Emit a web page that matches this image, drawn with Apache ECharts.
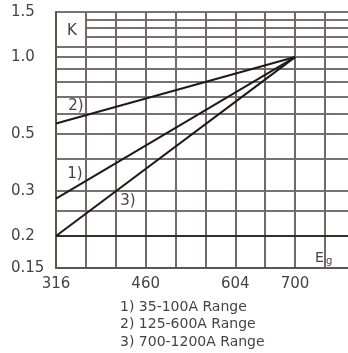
<!DOCTYPE html>
<html><head><meta charset="utf-8">
<script src="https://cdn.jsdelivr.net/npm/echarts@6/dist/echarts.min.js"></script>
<style>html,body{margin:0;padding:0;background:#fff}#c{width:348px;height:353px}</style>
</head><body><div id="c"></div>
<script>
// Data
const egValues = [316, 700];
const kRange1 = [0.28, 1.0];   // 1) 35-100A
const kRange2 = [0.55, 1.0];   // 2) 125-600A
const kRange3 = [0.20, 1.0];   // 3) 700-1200A
const xGridValues = [316, 364, 412, 460, 508, 556, 604, 652, 700, 748];
const xLabelValues = [316, 460, 604, 700];
const yGridValues = [1.5, 1.4, 1.3, 1.2, 1.1, 1.0, 0.9, 0.8, 0.7, 0.6, 0.5, 0.4, 0.3, 0.25, 0.2, 0.15];
const yLabelValues = [1.5, 1.0, 0.5, 0.3, 0.2, 0.15];
const yLabelTexts = ['1.5', '1.0', '0.5', '0.3', '0.2', '0.15'];
const legendLines = ['1) 35-100A Range', '2) 125-600A Range', '3) 700-1200A Range'];

const FONT = 'DejaVu Sans';
const TXT = '#484242';
const LINE = '#1e1a1a';

function pair(xs, ys) { return xs.map((x, i) => [x, ys[i]]); }
function yFmt(v) {
  let best = 0;
  yLabelValues.forEach((y, i) => { if (Math.abs(y - v) < Math.abs(yLabelValues[best] - v)) best = i; });
  return yLabelTexts[best];
}

const chart = echarts.init(document.getElementById('c'), null, { renderer: 'canvas' });
const lineSeries = (name, ys, extra) => Object.assign({
  name, type: 'line', data: pair(egValues, ys), showSymbol: false, symbol: 'none',
  lineStyle: { color: LINE, width: 2 }, z: 5, clip: false, animation: false
}, extra || {});

chart.setOption({
  animation: false,
  backgroundColor: '#fff',
  grid: { left: 56, top: 12, right: 0, bottom: 85, containLabel: false },
  xAxis: {
    type: 'value', min: 316, max: 785,
    axisLine: { show: true, lineStyle: { color: '#5e5452', width: 2 } },
    axisTick: { show: false, customValues: xGridValues },
    axisLabel: { customValues: xLabelValues, margin: 9, fontFamily: FONT, fontSize: 15, color: TXT },
    splitLine: { show: true, lineStyle: { color: '#746864', width: 2 } }
  },
  yAxis: {
    type: 'log', logBase: 10, min: 0.15, max: 1.5,
    axisLine: { show: true, lineStyle: { color: '#5e5452', width: 2 } },
    axisTick: { show: false, customValues: yGridValues },
    axisLabel: { customValues: yLabelValues, formatter: yFmt, align: 'left', margin: 45,
                 fontFamily: FONT, fontSize: 15, color: TXT },
    splitLine: { show: true, lineStyle: { color: '#4a4240', width: 1.6 } }
  },
  series: [
    lineSeries('1)', kRange1, {
      markLine: { silent: true, symbol: 'none', label: { show: false },
        lineStyle: { color: LINE, type: 'solid', width: 1.6 }, data: [{ yAxis: 0.2 }] }
    }),
    lineSeries('2)', kRange2),
    lineSeries('3)', kRange3)
  ],
  graphic: [
    { type: 'rect', shape: { x: 57, y: 13, width: 28, height: 33 }, style: { fill: '#fff' }, z: 10 },
    { type: 'text', x: 72, y: 31, z: 11, style: { text: 'K', fontFamily: FONT, fontSize: 15, fill: TXT, align: 'center', verticalAlign: 'middle' } },
    { type: 'text', x: 76, y: 106, z: 11, style: { text: '2)', fontFamily: FONT, fontSize: 15, fill: TXT, align: 'center', verticalAlign: 'middle' } },
    { type: 'text', x: 75, y: 174, z: 11, style: { text: '1)', fontFamily: FONT, fontSize: 15, fill: TXT, align: 'center', verticalAlign: 'middle' } },
    { type: 'text', x: 128, y: 201, z: 11, style: { text: '3)', fontFamily: FONT, fontSize: 15, fill: TXT, align: 'center', verticalAlign: 'middle' } },
    { type: 'text', x: 315, y: 251, z: 11, style: { text: 'E', fontFamily: FONT, fontSize: 14, fill: TXT } },
    { type: 'text', x: 326, y: 256, z: 11, style: { text: 'g', fontFamily: FONT, fontSize: 10, fill: TXT } },
    ...legendLines.map((t, i) => ({ type: 'text', x: 120, y: 307 + i * 17.5, z: 11,
      style: { text: t, fontFamily: FONT, fontSize: 14, fill: TXT, verticalAlign: 'middle' } }))
  ]
});
</script>
</body></html>
